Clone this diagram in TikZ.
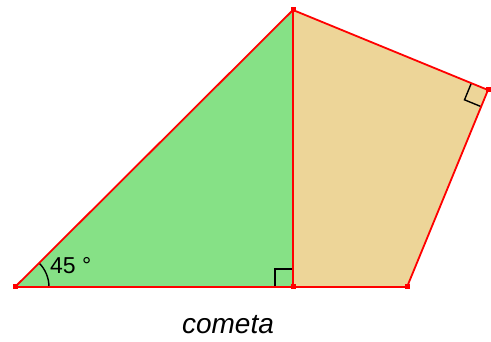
\documentclass[tikz,border=0pt]{standalone}
\usepackage{fontspec}
\setmainfont{Liberation Sans}
\definecolor{fgreen}{HTML}{86E186}
\definecolor{ftan}{HTML}{EDD598}
\definecolor{ered}{HTML}{FF0000}
\tikzset{
  edge/.style={draw=ered,line width=1.8pt,line join=round},
  anglemark/.style={draw=black,line width=1.4pt},
  vdot/.style={fill=ered,minimum size=5pt,inner sep=0pt,draw=none,rectangle},
}
\begin{document}
\begin{tikzpicture}[x=1pt,y=-1pt]
\useasboundingbox (0,0) rectangle (491,342);
\coordinate (A) at (15,287);
\coordinate (B) at (293,10);
\coordinate (C) at (293,287);
\coordinate (D) at (488,90);
\coordinate (E) at (407,287);
\fill[fgreen] (A) -- (B) -- (C) -- cycle;
\fill[ftan] (B) -- (D) -- (E) -- (C) -- cycle;
% right angle markers
\draw[anglemark] (275,287) -- (275,269) -- (293,269);
\draw[anglemark] (471.35,83.17) -- (464.51,99.82) -- (481.16,106.65);
% angle arc
\draw[anglemark] (49,287) arc[start angle=0,end angle=-45,radius=34];
\path[edge] (A) -- (B) -- (C) -- cycle;
\path[edge] (B) -- (D) -- (E) -- (C);
\foreach \p in {A,B,C,D,E} \node[vdot] at (\p) {};
\node[anchor=base west,font=\fontsize{23}{26}\selectfont,inner sep=0pt] (ang) at (50,274) {45 °};
\node[font=\fontsize{28}{31}\itshape\selectfont,inner sep=0pt,anchor=base] (lab) at (228,334) {cometa};
\end{tikzpicture}
\end{document}
